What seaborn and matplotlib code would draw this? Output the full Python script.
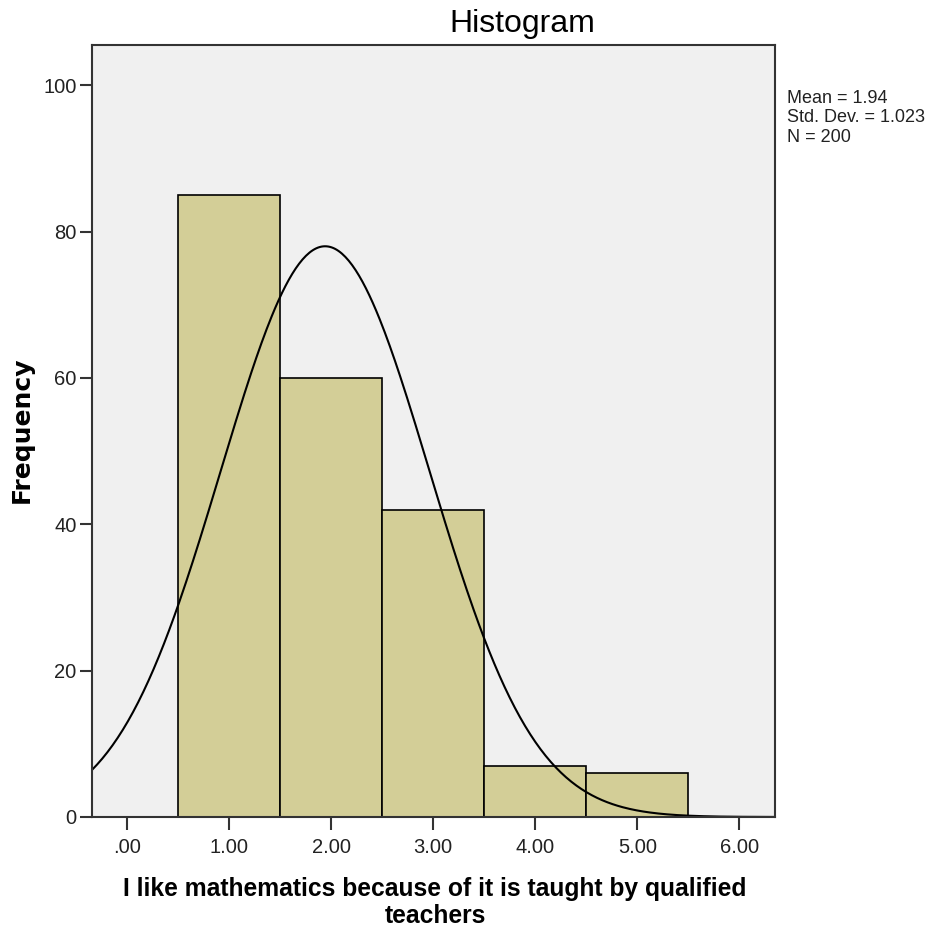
import numpy as np
import pandas as pd
import matplotlib
matplotlib.use("Agg")
import matplotlib.pyplot as plt
import seaborn as sns

# ---- data ----
scores = [1, 2, 3, 4, 5]
frequencies = [85, 60, 42, 7, 6]
x_ticks = [0, 1, 2, 3, 4, 5, 6]
x_tick_labels = [".00", "1.00", "2.00", "3.00", "4.00", "5.00", "6.00"]
y_ticks = [0, 20, 40, 60, 80, 100]
stat_mean = 1.94
stat_sd = 1.023
stat_n = 200

df = pd.DataFrame({"score": scores, "count": frequencies})

sns.set_theme(style="white")
plt.rcParams["font.family"] = ["Liberation Sans", "DejaVu Sans"]

W, H = 933, 936
fig = plt.figure(figsize=(W / 100, H / 100), dpi=100)
ax = fig.add_axes([92 / W, 1 - 817 / H, (775 - 92) / W, (817 - 45) / H])
ax.set_facecolor("#F0F0F0")

edges = [s - 0.5 for s in scores] + [scores[-1] + 0.5]
sns.histplot(data=df, x="score", weights="count", bins=edges, ax=ax,
             color="#D3CE97", alpha=1.0, edgecolor="black", linewidth=1.2)

ax.set_xlim(-0.345, 6.35)
ax.set_ylim(0, 105.5)

# fitted normal curve
xs = np.linspace(-0.345, 6.35, 400)
binw = 1.0
ys = stat_n * binw / (stat_sd * np.sqrt(2 * np.pi)) * np.exp(-0.5 * ((xs - stat_mean) / stat_sd) ** 2)
sns.lineplot(x=xs, y=ys, ax=ax, color="black", linewidth=1.5)

ax.set_xticks(x_ticks)
ax.set_xticklabels(x_tick_labels)
ax.set_yticks(y_ticks)
ax.tick_params(axis="both", direction="out", length=9, width=1.5, color="#333333",
               labelsize=14.5, labelcolor="#222222", bottom=True, left=True)
ax.tick_params(axis="x", pad=6)
ax.tick_params(axis="y", pad=2)

for sp in ax.spines.values():
    sp.set_visible(True)
    sp.set_color("#333333")
    sp.set_linewidth(1.5)

ax.set_xlabel("")
ax.set_ylabel("")

fig.text(522 / W, 1 - 32 / H, "Histogram", fontsize=23, ha="center",
         va="baseline", color="black")
fig.text(435 / W, 1 - 877 / H,
         "I like mathematics because of it is taught by qualified\nteachers",
         fontsize=17.7, fontweight="bold", ha="center", va="top",
         multialignment="center", linespacing=1.14, color="black")
fig.text(22 / W, 1 - 430 / H, "Frequency", fontsize=18, fontweight="bold",
         family=["DejaVu Sans"], rotation=90, ha="center", va="center",
         color="black")

fig.text(787 / W, 1 - 90 / H,
         f"Mean = {stat_mean:.2f}\nStd. Dev. = {stat_sd:.3f}\nN = {stat_n}",
         fontsize=13, va="top", ha="left", linespacing=1.18, color="#222222")

fig.savefig("out.png", dpi=100)
